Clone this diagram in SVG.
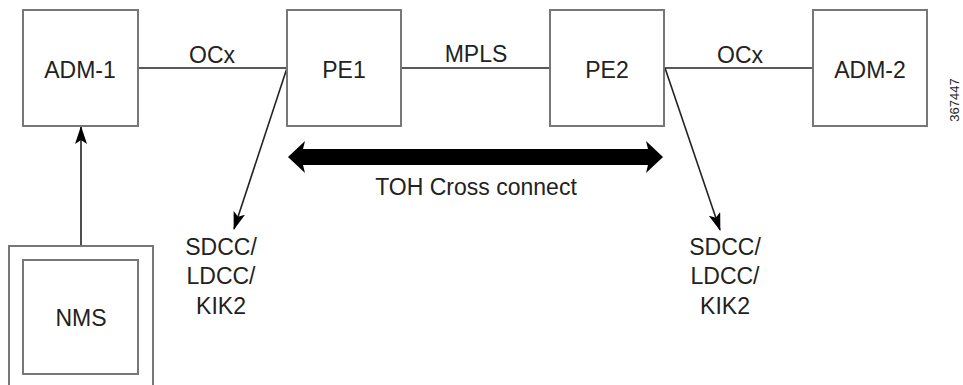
<svg xmlns="http://www.w3.org/2000/svg" width="963" height="385" viewBox="0 0 963 385">
<style>
.box{fill:#fff;stroke:#777;stroke-width:2}
.ln{stroke:#222;stroke-width:1.6;fill:none}
.t{font-family:"Liberation Sans",Arial,sans-serif;font-size:23px;fill:#222;text-anchor:middle}
</style>
<defs>
<marker id="ah" markerWidth="18" markerHeight="12" refX="17" refY="6" orient="auto" markerUnits="userSpaceOnUse">
<path d="M0,0 L18,6 L0,12 L4,6 Z" fill="#000"/>
</marker>
</defs>
<rect width="963" height="385" fill="#fff"/>
<g id="connectors">
<line class="ln" x1="138" y1="68" x2="287" y2="68"/>
<line class="ln" x1="401" y1="68" x2="550" y2="68"/>
<line class="ln" x1="664" y1="68" x2="813" y2="68"/>
<line class="ln" x1="81" y1="246" x2="81" y2="127" marker-end="url(#ah)"/>
<line class="ln" x1="287" y1="68" x2="234" y2="229" marker-end="url(#ah)"/>
<line class="ln" x1="665" y1="68" x2="720" y2="230" marker-end="url(#ah)"/>
<path d="M288,157 L305,141 L303,149 L648,149 L646,141 L663,157 L646,173 L648,165 L303,165 L305,173 Z" fill="#000"/>
<text class="t" x="212" y="63">OCx</text>
<text class="t" x="476" y="62">MPLS</text>
<text class="t" x="740" y="63">OCx</text>
<text class="t" x="476" y="195">TOH Cross connect</text>
</g>
<g id="adm1">
<rect class="box" x="23" y="10" width="115" height="116"/>
<text class="t" x="80" y="78">ADM-1</text>
</g>
<g id="pe1">
<rect class="box" x="287" y="10" width="114" height="116"/>
<text class="t" x="344" y="78">PE1</text>
</g>
<g id="pe2">
<rect class="box" x="550" y="10" width="114" height="116"/>
<text class="t" x="607" y="78">PE2</text>
</g>
<g id="adm2">
<rect class="box" x="813" y="10" width="114" height="116"/>
<text class="t" x="870" y="78">ADM-2</text>
</g>
<g id="nms">
<path d="M9,390 L9,246 L153,246 L153,390" fill="none" stroke="#777" stroke-width="2"/>
<rect class="box" x="23" y="260" width="115" height="114"/>
<text class="t" x="81" y="326">NMS</text>
</g>
<g id="sdcc1">
<text class="t" x="221" y="255">SDCC/</text>
<text class="t" x="221" y="284">LDCC/</text>
<text class="t" x="221" y="314">KIK2</text>
</g>
<g id="sdcc2">
<text class="t" x="725" y="255">SDCC/</text>
<text class="t" x="725" y="284">LDCC/</text>
<text class="t" x="725" y="314">KIK2</text>
</g>
<text x="0" y="0" transform="translate(959,100) rotate(-90)" font-family="Liberation Sans,Arial,sans-serif" font-size="13" fill="#222" text-anchor="middle">367447</text>
</svg>
